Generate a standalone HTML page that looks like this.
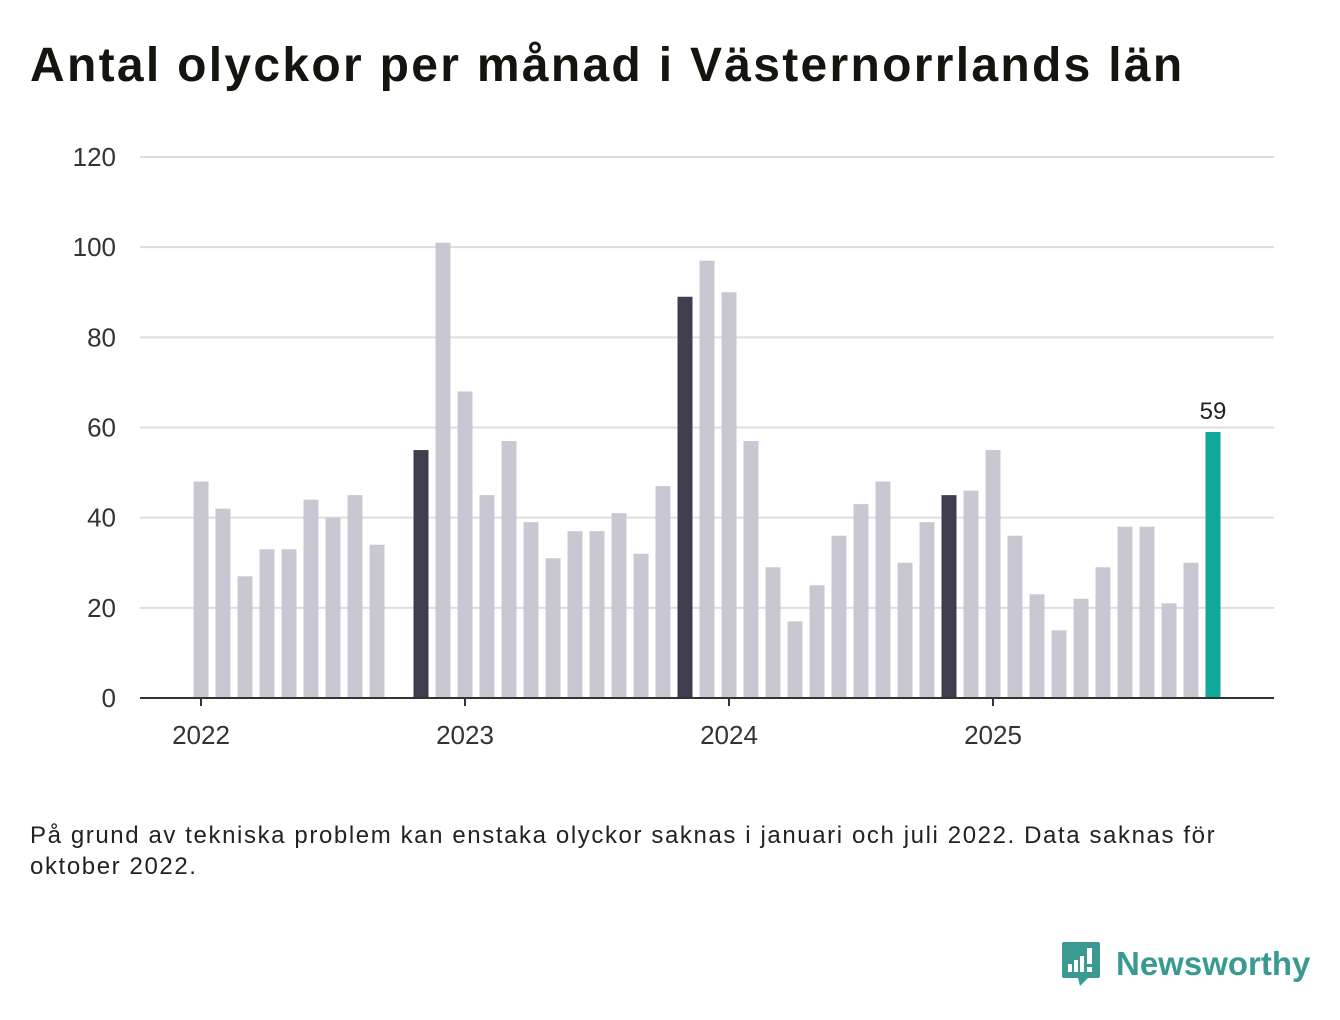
<!DOCTYPE html>
<html><head><meta charset="utf-8">
<style>
body{margin:0;background:#fff;width:1340px;height:1020px;overflow:hidden;font-family:"Liberation Sans","DejaVu Sans",sans-serif;}
#title{position:absolute;left:30px;top:38px;font-size:48px;font-weight:bold;color:#15150f;margin:0;letter-spacing:2.3px}
#note{position:absolute;left:30px;top:820px;width:1290px;font-size:24px;line-height:31px;color:#222;letter-spacing:1.6px;white-space:nowrap}
#logo{position:absolute;left:1060px;top:940px;display:flex;align-items:center}
#logo span{font-size:33px;font-weight:bold;color:#3a9a92;margin-left:14px}
</style></head><body>
<h1 id="title">Antal olyckor per månad i Västernorrlands län</h1>
<svg id="chart" width="1340" height="800" style="position:absolute;left:0;top:0"></svg>
<div id="note">På grund av tekniska problem kan enstaka olyckor saknas i januari och juli 2022. Data saknas för<br>oktober 2022.</div>
<div id="logo">
<svg width="42" height="48" viewBox="0 0 42 48"><path d="M4 2h34a2 2 0 0 1 2 2v32a2 2 0 0 1-2 2H28l-8 8-2-8H4a2 2 0 0 1-2-2V4a2 2 0 0 1 2-2z" fill="#3a9a92"/><rect x="8" y="24" width="4" height="8" fill="#fff"/><rect x="14" y="20" width="4" height="12" fill="#fff"/><rect x="20" y="16" width="4" height="16" fill="#fff"/><rect x="27" y="8" width="5" height="16" fill="#fff"/><rect x="27" y="27" width="5" height="5" fill="#fff"/></svg>
<span>Newsworthy</span></div>
<script>
const values=[48,42,27,33,33,44,40,45,34,null,55,101,
68,45,57,39,31,37,37,41,32,47,89,97,
90,57,29,17,25,36,43,48,30,39,45,46,
55,36,23,15,22,29,38,38,21,30,59];
const yTicks=[0,20,40,60,80,100,120];
const years=["2022","2023","2024","2025"];
const NS="http://www.w3.org/2000/svg";
const svg=document.getElementById('chart');
const x0=140,x1=1274,y0=698,y1=157;
const y=v=>y0-(v/120)*(y0-y1);
const x=i=>201+i*22;
function mk(t,a){const e=document.createElementNS(NS,t);for(const k in a)e.setAttribute(k,a[k]);svg.appendChild(e);return e;}
yTicks.forEach(t=>{
 if(t>0){const g=mk('line',{x1:x0,x2:x1,y1:y(t),y2:y(t),stroke:'#dddddd','stroke-width':2});
 
 }
 const l=mk('text',{x:116,y:y(t)+9,'text-anchor':'end','font-size':26,fill:'#333'});
 l.textContent=t;
 
 
});
const n=values.length;
values.forEach((v,i)=>{
 if(v==null)return;
 let c='#c8c7d2';
 if(i===n-1)c='#0fa89a';else if(i%12===(n-1)%12)c='#3f3e4e';
 const r=mk('rect',{x:x(i)-7.5,y:y(v),width:15,height:y0-y(v),fill:c});
 
 
});
const lv=mk('text',{x:x(n-1),y:y(values[n-1])-13,'text-anchor':'middle','font-size':24,fill:'#222'});
lv.textContent=values[n-1];


const ax=mk('line',{x1:x0,x2:x1,y1:y0,y2:y0,stroke:'#333','stroke-width':2});


years.forEach((yr,k)=>{
 const tk=mk('line',{x1:x(k*12),x2:x(k*12),y1:y0,y2:y0+8,stroke:'#333','stroke-width':2});
 
 
 const t=mk('text',{x:x(k*12),y:744,'text-anchor':'middle','font-size':26,fill:'#333'});
 t.textContent=yr;
 
 
});
</script>
</body></html>
